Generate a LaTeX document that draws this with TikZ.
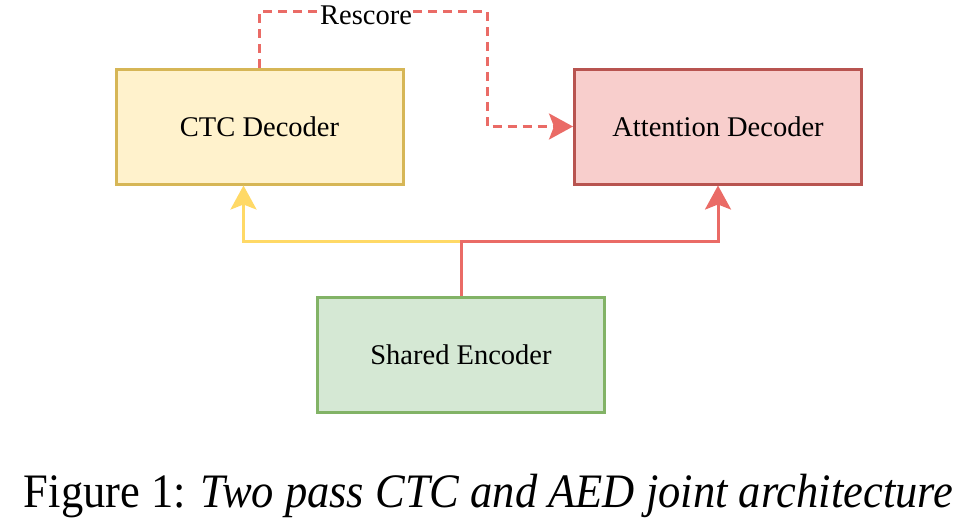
\documentclass[tikz,border=0pt]{standalone}
\usepackage{fontspec}
\setmainfont{Liberation Serif}
\usetikzlibrary{arrows.meta}
\definecolor{ctcfill}{HTML}{FFF2CC}
\definecolor{ctcline}{HTML}{D6B656}
\definecolor{attfill}{HTML}{F8CECC}
\definecolor{attline}{HTML}{B85450}
\definecolor{encfill}{HTML}{D5E8D4}
\definecolor{encline}{HTML}{82B366}
\definecolor{yelarrow}{HTML}{FFD966}
\definecolor{redarrow}{HTML}{EA6B66}
\tikzset{
  blockbox/.style={rectangle, line width=3pt, minimum width=287pt, minimum height=115pt, inner sep=0pt, font=\fontsize{28.5}{34}\selectfont},
  conn/.style={line width=3pt, -{Stealth[length=24pt,width=26pt,inset=5pt]}},
}
\begin{document}
\begin{tikzpicture}[x=1pt,y=-1pt]
\useasboundingbox (0,0) rectangle (969,530);
\node[blockbox, draw=ctcline, fill=ctcfill] (ctc) at (259.5,126.5) {CTC Decoder};
\node[blockbox, draw=attline, fill=attfill] (att) at (718,126.5) {Attention Decoder};
\node[blockbox, draw=encline, fill=encfill] (enc) at (461,355) {Shared Encoder};
\coordinate (j) at (461,241);
\coordinate (r) at (487,11);
\draw[conn, draw=yelarrow] (j) -| ([xshift=-16pt]ctc.south);
\draw[conn, draw=redarrow] (enc.north) -- (j) -| (att.south);
\draw[conn, draw=redarrow, dash pattern=on 9pt off 6pt] (ctc.north) |- (r) |- (att.west);
\node[fill=white, inner sep=1pt, font=\fontsize{28.5}{34}\selectfont] (rs) at (366,15) {Rescore};
\node[anchor=base, inner sep=0pt] (cap) at (488.5,507) {\scalebox{1}[1.08]{\fontsize{44.5}{50}\selectfont Figure 1: \textit{Two pass CTC and AED joint architecture}}};
\end{tikzpicture}
\end{document}
